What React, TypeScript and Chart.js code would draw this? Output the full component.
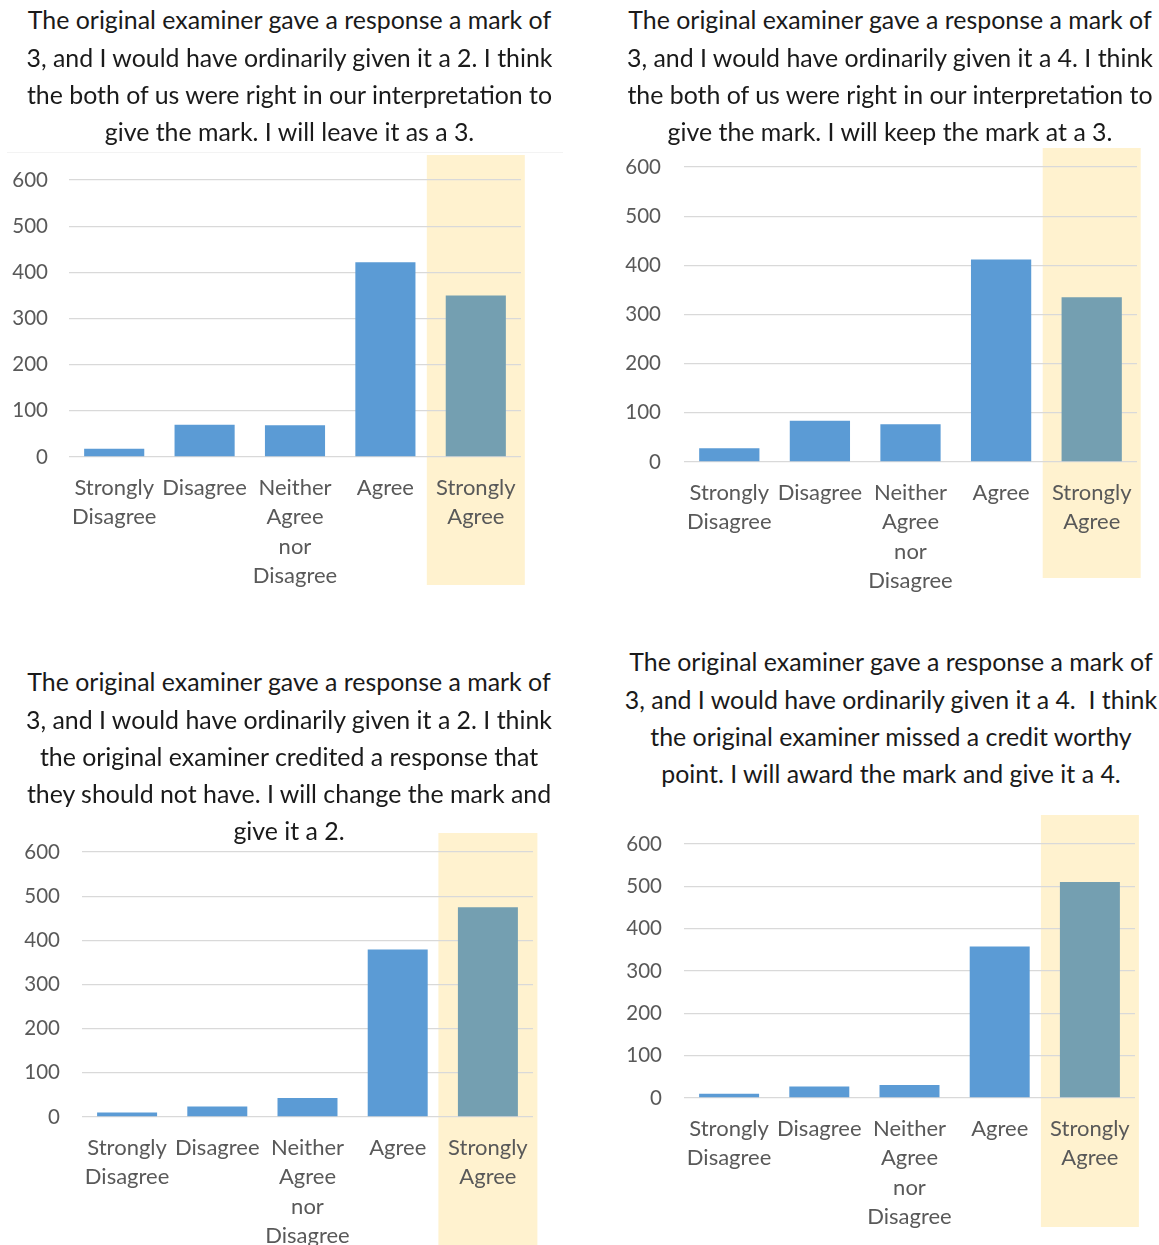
import React, { useEffect, useRef } from "react";
import { Chart, registerables } from "chart.js";

Chart.register(...registerables);

// Likert response categories (multi-line axis labels)
const categories: string[][] = [
  ["Strongly", "Disagree"],
  ["Disagree"],
  ["Neither", "Agree", "nor", "Disagree"],
  ["Agree"],
  ["Strongly", "Agree"],
];

// Response counts for each scenario
const scenario1Values = [18, 70, 69, 422, 350];
const scenario2Values = [28, 84, 77, 412, 335];
const scenario3Values = [10, 24, 43, 379, 475];
const scenario4Values = [10, 27, 31, 358, 510];

// Value axis
const yMin = 0;
const yMax = 600;
const yStep = 100;

// Which category is highlighted in every panel
const highlightIndex = 4;

// Scenario statements shown above each chart
const scenario1Text = [
  "The original examiner gave a response a mark of",
  "3, and I would have ordinarily given it a 2. I think",
  "the both of us were right in our interpretation to",
  "give the mark. I will leave it as a 3.",
];
const scenario2Text = [
  "The original examiner gave a response a mark of",
  "3, and I would have ordinarily given it a 4. I think",
  "the both of us were right in our interpretation to",
  "give the mark. I will keep the mark at a 3.",
];
const scenario3Text = [
  "The original examiner gave a response a mark of",
  "3, and I would have ordinarily given it a 2. I think",
  "the original examiner credited a response that",
  "they should not have. I will change the mark and",
  "give it a 2.",
];
const scenario4Text = [
  "The original examiner gave a response a mark of",
  "3, and I would have ordinarily given it a 4.  I think",
  "the original examiner missed a credit worthy",
  "point. I will award the mark and give it a 4.",
];

const BAR_BLUE = "#5B9BD5";
const BAR_HIGHLIGHT = "#749FB1";
const BAND_COLOR = "#FFF2CF";
const GRID_COLOR = "#D9D9D9";
const TICK_COLOR = "#595959";
const FONT = "Lato, 'Open Sans', sans-serif";

type Geometry = {
  canvasLeft: number;
  canvasRight: number;
  canvasTop: number;
  canvasBottom: number;
  plotLeft: number;
  plotRight: number;
  plotTop: number;
  plotBottom: number;
  bandTop: number;
  bandBottom: number;
  bandHalf: number;
  yPad: number;
};

type TitleBox = {
  centerX: number;
  firstLineY: number;
};

const bandPlugin = {
  id: "highlightBand",
  beforeDraw(chart: any, _args: any, opts: any) {
    const x = chart.scales.x;
    const ctx = chart.ctx;
    const c = x.getPixelForValue(opts.index);
    ctx.save();
    ctx.fillStyle = opts.color;
    ctx.fillRect(c - opts.half, opts.top, opts.half * 2, opts.bottom - opts.top);
    ctx.restore();
  },
};

function LikertChart({ values, g }: { values: number[]; g: Geometry }) {
  const ref = useRef<HTMLCanvasElement | null>(null);

  useEffect(() => {
    if (!ref.current) return;
    const chart = new Chart(ref.current, {
      type: "bar",
      data: {
        labels: categories,
        datasets: [
          {
            data: values,
            backgroundColor: values.map((_, i) => (i === highlightIndex ? BAR_HIGHLIGHT : BAR_BLUE)),
            borderWidth: 0,
            barPercentage: 0.665,
            categoryPercentage: 1,
          },
        ],
      },
      options: {
        animation: false,
        responsive: false,
        maintainAspectRatio: false,
        events: [],
        layout: {
          autoPadding: false,
          padding: {
            left: 0,
            right: g.canvasRight - g.plotRight,
            top: g.plotTop - g.canvasTop,
            bottom: 0,
          },
        },
        plugins: {
          legend: { display: false },
          tooltip: { enabled: false },
          title: { display: false },
          highlightBand: {
            index: highlightIndex,
            color: BAND_COLOR,
            half: g.bandHalf,
            top: g.bandTop - g.canvasTop,
            bottom: g.bandBottom - g.canvasTop,
          },
        } as any,
        scales: {
          x: {
            grid: { display: false, drawTicks: false },
            border: { display: false },
            ticks: {
              color: TICK_COLOR,
              padding: 16,
              maxRotation: 0,
              minRotation: 0,
              autoSkip: false,
              font: { family: FONT, size: 22, lineHeight: 29.4 / 22 },
            },
            afterFit: (scale: any) => {
              scale.height = g.canvasBottom - g.plotBottom;
              scale.paddingLeft = 0;
              scale.paddingRight = 0;
            },
          },
          y: {
            min: yMin,
            max: yMax,
            grid: { color: GRID_COLOR, lineWidth: 1.3, drawTicks: false },
            border: { display: false },
            ticks: {
              stepSize: yStep,
              color: TICK_COLOR,
              padding: g.yPad,
              font: { family: FONT, size: 20.5 },
            },
            afterFit: (scale: any) => {
              scale.width = g.plotLeft - g.canvasLeft;
              scale.paddingTop = 0;
              scale.paddingBottom = 0;
            },
          },
        },
      },
      plugins: [bandPlugin],
    });
    return () => chart.destroy();
  }, [values, g]);

  return (
    <canvas
      ref={ref}
      width={g.canvasRight - g.canvasLeft}
      height={g.canvasBottom - g.canvasTop}
      style={{
        position: "absolute",
        left: g.canvasLeft,
        top: g.canvasTop,
        width: g.canvasRight - g.canvasLeft,
        height: g.canvasBottom - g.canvasTop,
      }}
    />
  );
}

function Statement({ lines, box }: { lines: string[]; box: TitleBox }) {
  const lineH = 37.2;
  return (
    <>
      {lines.map((t, i) => (
        <div
          key={i}
          style={{
            position: "absolute",
            left: box.centerX - 300,
            width: 600,
            top: box.firstLineY + i * lineH - lineH / 2,
            height: lineH,
            lineHeight: `${lineH}px`,
            textAlign: "center",
            fontFamily: FONT,
            fontSize: 24.9,
            color: "#1A1A1A",
            whiteSpace: "pre",
          }}
        >
          {t}
        </div>
      ))}
    </>
  );
}

const geo1: Geometry = {
  canvasLeft: 0, canvasRight: 578, canvasTop: 150, canvasBottom: 600,
  plotLeft: 69, plotRight: 521, plotTop: 180, plotBottom: 457,
  bandTop: 155, bandBottom: 585, bandHalf: 49, yPad: 21,
};
const geo2: Geometry = {
  canvasLeft: 580, canvasRight: 1159, canvasTop: 143, canvasBottom: 600,
  plotLeft: 684, plotRight: 1137, plotTop: 167, plotBottom: 462,
  bandTop: 148, bandBottom: 578, bandHalf: 49, yPad: 23,
};
const geo3: Geometry = {
  canvasLeft: 0, canvasRight: 578, canvasTop: 828, canvasBottom: 1245,
  plotLeft: 82, plotRight: 533, plotTop: 852, plotBottom: 1117,
  bandTop: 833, bandBottom: 1250, bandHalf: 49.5, yPad: 22,
};
const geo4: Geometry = {
  canvasLeft: 580, canvasRight: 1159, canvasTop: 810, canvasBottom: 1245,
  plotLeft: 684, plotRight: 1135, plotTop: 844, plotBottom: 1098,
  bandTop: 815, bandBottom: 1227, bandHalf: 49, yPad: 22,
};

export default function App() {
  return (
    <div
      style={{
        position: "absolute",
        left: 0,
        top: 0,
        width: 1159,
        height: 1245,
        overflow: "hidden",
        background: "#FFFFFF",
      }}
    >
      {/* faint chart-frame edge above the first panel */}
      <div
        style={{
          position: "absolute",
          left: 7,
          top: 152,
          width: 556,
          height: 1,
          background: "#F3F3F3",
        }}
      />
      <LikertChart values={scenario1Values} g={geo1} />
      <LikertChart values={scenario2Values} g={geo2} />
      <LikertChart values={scenario3Values} g={geo3} />
      <LikertChart values={scenario4Values} g={geo4} />
      <Statement lines={scenario1Text} box={{ centerX: 289.5, firstLineY: 20 }} />
      <Statement lines={scenario2Text} box={{ centerX: 890, firstLineY: 20 }} />
      <Statement lines={scenario3Text} box={{ centerX: 289, firstLineY: 682 }} />
      <Statement lines={scenario4Text} box={{ centerX: 891, firstLineY: 662 }} />
    </div>
  );
}
